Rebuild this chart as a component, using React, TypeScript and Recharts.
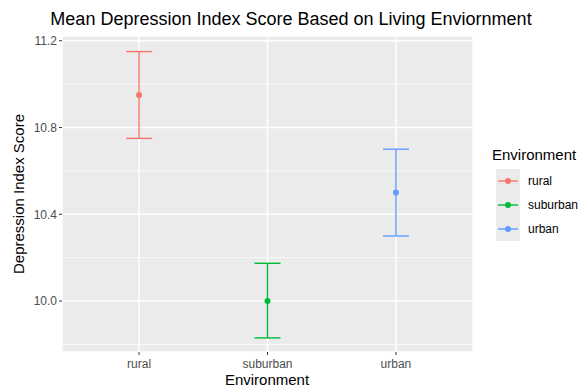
import React from 'react';
import {
  ComposedChart, Scatter, XAxis, YAxis, CartesianGrid, ErrorBar, ReferenceLine,
} from 'recharts';

const categories = ['rural', 'suburban', 'urban'];
const means = [10.95, 10.0, 10.5];
const lowers = [10.75, 9.83, 10.3];
const uppers = [11.15, 10.174, 10.7];
const colors = ['#F8766D', '#00BA38', '#619CFF'];
const yTicks = [10.0, 10.4, 10.8, 11.2];
const yMinor = [9.8, 10.2, 10.6, 11.0];
const xTicks = [1, 2, 3];

const FONT = '"Liberation Sans", Arial, Helvetica, sans-serif';

const W = 582;
const H = 387;

const Dot = (props: any) => {
  const { cx, cy, fill } = props;
  if (cx == null || cy == null) return null;
  return <circle cx={cx} cy={cy} r={3} fill={fill} />;
};

export default function App() {
  return (
    <div style={{ position: 'absolute', left: 0, top: 0, width: W, height: H, background: '#fff', fontFamily: FONT }}>
      <ComposedChart
        width={W}
        height={H}
        margin={{ top: 36, right: 109, bottom: 0, left: 0 }}
      >
        <CartesianGrid fill="#EBEBEB" fillOpacity={1} stroke="#FFFFFF" strokeWidth={1.4} />
        {yMinor.map((v) => (
          <ReferenceLine key={v} y={v} stroke="#FFFFFF" strokeWidth={0.7} ifOverflow="hidden" />
        ))}
        <XAxis
          type="number"
          dataKey="x"
          domain={[0.4, 3.6]}
          ticks={xTicks}
          allowDataOverflow
          tickFormatter={(v: number) => categories[v - 1]}
          axisLine={false}
          tickLine={{ stroke: '#333333' }}
          tickSize={3}
          tickMargin={4}
          height={35}
          tick={{ fill: '#4D4D4D', fontSize: 12, fontFamily: FONT }}
        />
        <YAxis
          type="number"
          dataKey="y"
          domain={[9.765, 11.222]}
          ticks={yTicks}
          allowDataOverflow
          tickFormatter={(v: number) => v.toFixed(1)}
          axisLine={false}
          tickLine={{ stroke: '#333333' }}
          tickSize={3}
          tickMargin={2}
          width={62}
          tick={{ fill: '#4D4D4D', fontSize: 12, fontFamily: FONT }}
        />
        {categories.map((c, i) => (
          <Scatter
            key={c}
            name={c}
            data={[{ x: i + 1, y: means[i], err: [means[i] - lowers[i], uppers[i] - means[i]] }]}
            fill={colors[i]}
            shape={Dot}
            isAnimationActive={false}
          >
            <ErrorBar dataKey="err" direction="y" width={13} stroke={colors[i]} strokeWidth={1.4} />
          </Scatter>
        ))}
      </ComposedChart>
      <svg
        width={W}
        height={H}
        style={{ position: 'absolute', left: 0, top: 0, pointerEvents: 'none' }}
        fontFamily={FONT}
      >
        <text x={291} y={25} textAnchor="middle" fontSize={18} fill="#000">
          Mean Depression Index Score Based on Living Enviornment
        </text>
        <text x={267} y={385} textAnchor="middle" fontSize={15} fill="#000">
          Environment
        </text>
        <text
          x={0}
          y={0}
          transform="translate(24,194) rotate(-90)"
          textAnchor="middle"
          fontSize={15}
          fill="#000"
        >
          Depression Index Score
        </text>
        <text x={492} y={160} fontSize={15} fill="#000">
          Environment
        </text>
        {categories.map((c, i) => {
          const top = 169 + i * 24;
          const cy = top + 12;
          return (
            <g key={c}>
              <rect x={496} y={top} width={24} height={24} fill="#EBEBEB" />
              <line x1={498} x2={518} y1={cy} y2={cy} stroke={colors[i]} strokeWidth={1.4} />
              <circle cx={508} cy={cy} r={3} fill={colors[i]} />
              <text x={528} y={cy + 4} fontSize={12} fill="#000">
                {c}
              </text>
            </g>
          );
        })}
      </svg>
    </div>
  );
}
